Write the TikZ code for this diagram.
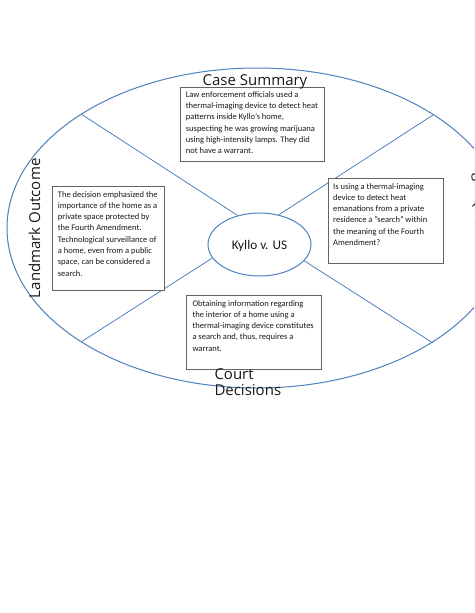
\documentclass[tikz,border=0pt]{standalone}
\usepackage{fontspec}
\setmainfont{Carlito}
\newfontfamily\labelfont{Open Sans}
\usetikzlibrary{shapes.geometric}
\definecolor{accent}{RGB}{79,129,189}
\definecolor{boxgray}{RGB}{100,100,100}
\definecolor{inkc}{RGB}{25,25,25}
\tikzset{
  outerring/.style={draw=accent, line width=1pt},
  spoke/.style={draw=accent, line width=0.8pt},
  hub/.style={ellipse, draw=accent, line width=1pt, fill=white, inner sep=0pt,
    minimum width=103pt, minimum height=63pt, text=inkc,
    font=\fontsize{13.25}{15}\selectfont, text depth=0pt},
  panel/.style={draw=boxgray, line width=0.9pt, fill=white, inner sep=0pt, anchor=north west},
  paneltext/.style={anchor=north west, align=left, inner sep=0pt, text=inkc,
    font=\fontsize{8.5}{11.3}\selectfont},
  heading/.style={inner sep=0pt, text=inkc, font=\labelfont\fontsize{15}{16.3}\selectfont}
}
\begin{document}
\begin{tikzpicture}[x=1pt, y=-1pt]
\useasboundingbox (0,0) rectangle (474,613);
\fill[white] (0,0) rectangle (474,613);
\clip (0,0) rectangle (474,613);

% outer ring
\draw[outerring] (257,228) ellipse [x radius=250pt, y radius=160pt];
\coordinate (ul) at (81,114);
\coordinate (ur) at (433,115);
\coordinate (ll) at (81,342);
\coordinate (lr) at (433,343);

% hub
\node[hub] (kyllo) at (259.5,244.5) {Kyllo v. US};

% spokes
\draw[spoke] (ul) -- (kyllo.127);
\draw[spoke] (ur) -- (kyllo.57);
\draw[spoke] (ll) -- (kyllo.196);
\draw[spoke] (lr) -- (kyllo.340);

% panels (text node top = first baseline - strut height 7.91)
\node[panel, minimum width=144pt, minimum height=74pt] (b1) at (180,87) {};
\node[paneltext] (t1) at (185.7,89.0) {\strut Law enforcement officials used a\\
thermal-imaging device to detect heat\\
patterns inside Kyllo's home,\\
suspecting he was growing marijuana\\
using high-intensity lamps. They did\\
not have a warrant.};

\node[panel, minimum width=115pt, minimum height=85pt] (b2) at (328,178) {};
\node[paneltext] (t2) at (333,180.9) {\strut Is using a thermal-imaging\\
device to detect heat\\
emanations from a private\\
residence a "search" within\\
the meaning of the Fourth\\
Amendment?};

\node[panel, minimum width=112pt, minimum height=104pt] (b3) at (52,186) {};
\node[paneltext] (t3) at (57.7,188.9) {\strut The decision emphasized the\\
importance of the home as a\\
private space protected by\\
the Fourth Amendment.\\
Technological surveillance of\\
a home, even from a public\\
space, can be considered a\\
search.};

\node[panel, minimum width=135pt, minimum height=74pt] (b4) at (186,295) {};
\node[paneltext] (t4) at (192.3,297.9) {\strut Obtaining information regarding\\
the interior of a home using a\\
thermal-imaging device constitutes\\
a search and, thus, requires a\\
warrant.};

% headings
\node[heading, anchor=base] (hcase) at (255,85.5) {Case Summary};
\node[heading, anchor=base, rotate=90] (hland) at (40,228.3) {Landmark Outcome};
\node[heading, anchor=base west, align=left] (hcourt) at (214.3,395.8) {Court\\Decisions};
\node[heading, anchor=base, rotate=-90] (hlegal) at (475,209.5) {Legal Question};
\end{tikzpicture}
\end{document}
